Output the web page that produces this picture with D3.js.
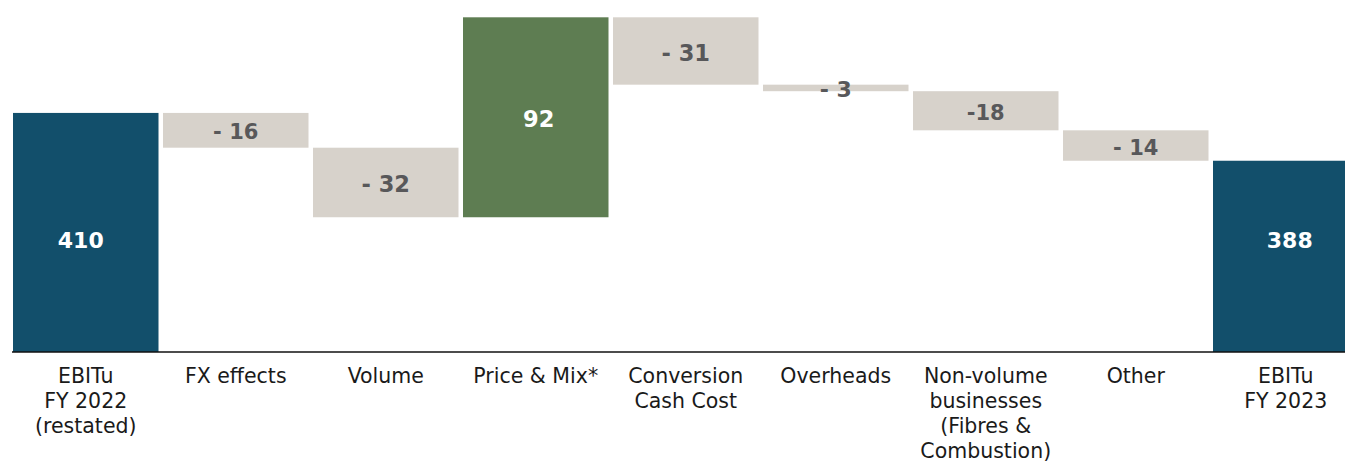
<!DOCTYPE html>
<html>
<head>
<meta charset="utf-8">
<script src="https://cdn.jsdelivr.net/npm/d3@7"></script>
<style>
  html, body { margin: 0; padding: 0; background: #ffffff; overflow: hidden; }
  svg { display: block; }
</style>
</head>
<body>
<svg id="chart" width="1345" height="461"></svg>
<script>
// ---- data ----
const categories = [
  "EBITu\nFY 2022\n(restated)",
  "FX effects",
  "Volume",
  "Price & Mix*",
  "Conversion\nCash Cost",
  "Overheads",
  "Non-volume\nbusinesses\n(Fibres &\nCombustion)",
  "Other",
  "EBITu\nFY 2023"
];
const values = [410, -16, -32, 92, -31, -3, -18, -14, 388];
const kinds = ["total", "delta", "delta", "delta", "delta", "delta", "delta", "delta", "total"];
const valueLabels = ["410", "- 16", "- 32", "92", "- 31", "- 3", "-18", "- 14", "388"];
const yDomain = [300, 454];

// ---- layout ----
const W = 1345, H = 461;
const baseY = 352, topY = 17.3;
const svg = d3.select("#chart");

const x = d3.scaleBand()
  .domain(categories)
  .range([13, 1358.5])
  .paddingInner(0.03)
  .paddingOuter(0);

const y = d3.scaleLinear().domain(yDomain).range([baseY, topY]);

// waterfall computation
let running = 0;
const bars = categories.map((c, i) => {
  let lo, hi;
  if (kinds[i] === "total") {
    lo = yDomain[0]; hi = values[i]; running = values[i];
  } else {
    const start = running, end = running + values[i];
    lo = Math.min(start, end); hi = Math.max(start, end);
    running = end;
  }
  return { i, cat: c, v: values[i], kind: kinds[i], lo, hi, label: valueLabels[i] };
});

const colorFor = d => d.kind === "total" ? "#124F6B" : (d.v > 0 ? "#5E7D52" : "#D7D2CB");

svg.append("g").selectAll("rect")
  .data(bars)
  .join("rect")
  .attr("x", d => x(d.cat))
  .attr("width", x.bandwidth())
  .attr("y", d => y(d.hi))
  .attr("height", d => y(d.lo) - y(d.hi))
  .attr("fill", colorFor);

// baseline axis
const axis = d3.axisBottom(x).tickSize(0).tickFormat("");
const axG = svg.append("g").attr("transform", `translate(0,${baseY})`).call(axis);
axG.select(".domain").attr("stroke", "#111").attr("stroke-width", 1.3)
  .attr("d", `M12,0H${W}`);

// value labels
const labelDx = d => d.kind === "total" ? (d.i === 0 ? -5 : 4) : (d.v > 0 ? 3 : 0);
const labelSize = d => {
  const h = y(d.lo) - y(d.hi);
  if (d.kind === "total") return 22;
  if (h < 10) return 22;
  return h < 45 ? 21 : 22.5;
};
svg.append("g").selectAll("text")
  .data(bars)
  .join("text")
  .attr("x", d => x(d.cat) + x.bandwidth() / 2 + labelDx(d))
  .attr("y", d => d.kind === "total" ? 240 : (y(d.hi) + y(d.lo)) / 2 + 1.5)
  .attr("dy", "0.36em")
  .attr("text-anchor", "middle")
  .attr("font-family", "DejaVu Sans, sans-serif")
  .attr("font-weight", "bold")
  .attr("font-size", labelSize)
  .attr("fill", d => (d.kind === "total" || d.v > 0) ? "#ffffff" : "#58585A")
  .text(d => d.label);

// category labels
const catG = svg.append("g");
bars.forEach(d => {
  const t = catG.append("text")
    .attr("x", x(d.cat) + x.bandwidth() / 2)
    .attr("y", 382.5)
    .attr("text-anchor", "middle")
    .attr("font-family", "DejaVu Sans, sans-serif")
    .attr("font-size", 20.5)
    .attr("fill", "#1a1a1a");
  d.cat.split("\n").forEach((line, j) => {
    t.append("tspan")
      .attr("x", x(d.cat) + x.bandwidth() / 2)
      .attr("dy", j === 0 ? 0 : 25)
      .text(line);
  });
});
</script>
</body>
</html>
